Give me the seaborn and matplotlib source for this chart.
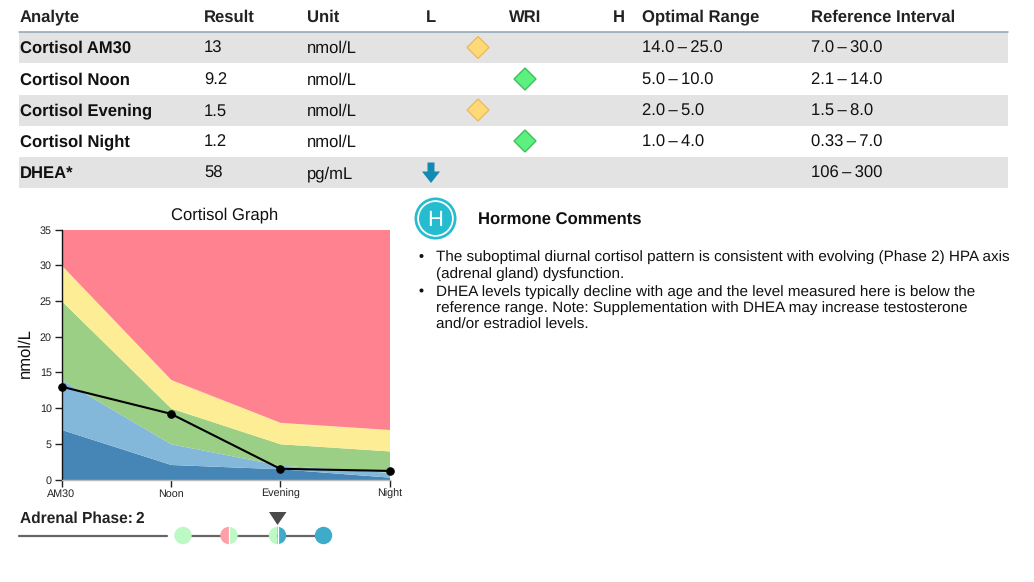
import matplotlib
matplotlib.use("Agg")
import matplotlib.pyplot as plt
from matplotlib.patches import Rectangle, Circle, Wedge, Polygon
import numpy as np
import pandas as pd
import seaborn as sns

sns.set_theme(style="white")
plt.rcParams['font.family'] = ['Liberation Sans', 'DejaVu Sans']
plt.rcParams['text.hinting'] = 'none'

# ---- data ----
headers = ["Analyte", "Result", "Unit", "L", "WRI", "H", "Optimal Range", "Reference Interval"]
analytes = ["Cortisol AM30", "Cortisol Noon", "Cortisol Evening", "Cortisol Night", "DHEA*"]
results = ["13", "9.2", "1.5", "1.2", "58"]
units = ["nmol/L", "nmol/L", "nmol/L", "nmol/L", "pg/mL"]
status = ["mid", "wri", "mid", "wri", "low"]
optimal = ["14.0\u2009–\u200925.0", "5.0\u2009–\u200910.0", "2.0\u2009–\u20095.0", "1.0\u2009–\u20094.0", ""]
reference = ["7.0\u2009–\u200930.0", "2.1\u2009–\u200914.0", "1.5\u2009–\u20098.0", "0.33\u2009–\u20097.0", "106\u2009–\u2009300"]

times = ["AM30", "Noon", "Evening", "Night"]
measured = [13, 9.2, 1.5, 1.2]
ref_low = [7, 2.1, 1.5, 0.33]
opt_low = [14, 5, 2, 1]
opt_high = [25, 10, 5, 4]
ref_high = [30, 14, 8, 7]
y_max = [35, 35, 35, 35]
y_ticks = [0, 5, 10, 15, 20, 25, 30, 35]

comments = [
    ["The suboptimal diurnal cortisol pattern is consistent with evolving (Phase 2) HPA axis",
     "(adrenal gland) dysfunction."],
    ["DHEA levels typically decline with age and the level measured here is below the",
     "reference range. Note: Supplementation with DHEA may increase testosterone",
     "and/or estradiol levels."],
]

W, H = 1034, 582
fig = plt.figure(figsize=(W / 100, H / 100), dpi=100, facecolor="white")
PT = 72 / 100  # points per pixel

# overlay in pixel coordinates
ov = fig.add_axes([0, 0, 1, 1], zorder=0)
ov.set_xlim(0, W)
ov.set_ylim(H, 0)
ov.axis("off")

# ---- table ----
col_x = {"Analyte": 20, "Result": 204, "Unit": 306.5, "L": 431, "WRI": 525, "H": 619,
         "Optimal Range": 642, "Reference Interval": 811}
TXT = "#111111"
fs = 16.6 * PT
for h in headers:
    ha = "center" if h in ("L", "WRI", "H") else "left"
    ov.text(col_x[h], 21.5, h, fontsize=fs, fontweight="bold", ha=ha, va="baseline", color="#222222")
ov.plot([19, 1008], [31.5, 31.5], color="#8fa3b3", lw=1.1)

row_y = [47.5, 79, 110, 141, 172.5]
for i, y in enumerate(row_y):
    if i % 2 == 0:
        ov.add_patch(Rectangle((19, y - 15.5), 989, 31, fc="#e3e3e3", ec="none", zorder=0))
    b = y + 5.5
    ov.text(20, b, analytes[i], fontsize=fs, fontweight="bold", va="baseline", color=TXT)
    ov.text(204, b, results[i], fontsize=fs, va="baseline", color=TXT)
    ov.text(306.5, b, units[i], fontsize=fs, va="baseline", color=TXT)
    ov.text(642, b, optimal[i], fontsize=fs, va="baseline", color=TXT)
    ov.text(811, b, reference[i], fontsize=fs, va="baseline", color=TXT)
    s = status[i]
    if s == "mid":
        ov.add_patch(Polygon([(478, y - 11), (489, y), (478, y + 11), (467, y)],
                             fc="#ffd977", ec="#e8bc62", lw=1))
    elif s == "wri":
        ov.add_patch(Polygon([(525, y - 11), (536, y), (525, y + 11), (514, y)],
                             fc="#5cf07e", ec="#3fbf60", lw=1))
    else:
        ov.add_patch(Polygon([(427.5, y - 10), (434.5, y - 10), (434.5, y - 1), (440, y - 1),
                              (431, y + 10.5), (422, y - 1), (427.5, y - 1)],
                             fc="#1489b3", ec="none"))

# ---- chart ----
ax = fig.add_axes([61.5 / W, 1 - 479.5 / H, (389.5 - 61.5) / W, (479.5 - 229.5) / H], zorder=2)
ax.patch.set_alpha(0)
x = np.arange(len(times))
ax.fill_between(x, 0, ref_low, color="#4686b7", lw=0)
ax.fill_between(x, ref_low, opt_low, color="#84b8da", lw=0)
ax.fill_between(x, opt_low, opt_high, color="#9bcf85", lw=0)
ax.fill_between(x, opt_high, ref_high, color="#fdee95", lw=0)
ax.fill_between(x, ref_high, y_max, color="#ff8291", lw=0)
df = pd.DataFrame({"t": x, "v": measured})
sns.lineplot(data=df, x="t", y="v", ax=ax, color="black", lw=1.5, marker="o",
             markersize=5.4, markeredgecolor="black", clip_on=False, zorder=5)
ax.set_xlim(0, 3)
ax.set_ylim(0, 35)
ax.set_xticks(x, times)
ax.set_yticks(y_ticks)
ax.set_xlabel("")
ax.set_ylabel("")
ax.tick_params(axis="both", length=5, width=1, color="#222222", labelsize=10.7 * PT,
               labelcolor="#222222", pad=2, left=True, bottom=True)
for s in ("top", "right"):
    ax.spines[s].set_visible(False)
ax.spines["left"].set(color="#111111", lw=1)
ax.spines["bottom"].set(color="#bbbbbb", lw=1)
ov.text(25, 353, "nmol/L", fontsize=16.6 * PT, rotation=90, ha="center", va="center", color="#111111")
ov.text(224.5, 219, "Cortisol Graph", fontsize=16.6 * PT, ha="center", va="baseline", color="#111111")

# ---- adrenal phase ----
ov.text(20, 523, "Adrenal Phase:", fontsize=15.5 * PT, fontweight="bold", va="baseline", color="#222222")
ov.text(135, 523, "2", fontsize=15.5 * PT, fontweight="bold", va="baseline", color="#222222")
ov.plot([19, 167], [535.5, 535.5], color="#666666", lw=1.6)
ov.plot([183, 323], [535.5, 535.5], color="#666666", lw=1.6)
GREEN, PINK, BLUE = "#bcf9c4", "#ff9fa8", "#3fabcb"
R = 8.7
ov.add_patch(Circle((183, 535.5), R, fc=GREEN, ec="none", zorder=3))
ov.add_patch(Wedge((229, 535.5), R, 90, 270, fc=PINK, ec="none", zorder=3))
ov.add_patch(Wedge((229, 535.5), R, -90, 90, fc=GREEN, ec="none", zorder=3))
ov.plot([229, 229], [526.5, 544.5], color="white", lw=0.9, zorder=4)
ov.add_patch(Wedge((277.5, 535.5), R, 90, 270, fc=GREEN, ec="none", zorder=3))
ov.add_patch(Wedge((277.5, 535.5), R, -90, 90, fc=BLUE, ec="none", zorder=3))
ov.plot([277.5, 277.5], [526.5, 544.5], color="white", lw=0.9, zorder=4)
ov.add_patch(Circle((323.5, 535.5), R, fc=BLUE, ec="none", zorder=3))
ov.add_patch(Polygon([(269, 512), (286.5, 512), (277.5, 525)], fc="#4a4a4a", ec="none"))

# ---- comments ----
ov.add_patch(Circle((435.5, 218.5), 21, fc="#26bccf", ec="none"))
ov.add_patch(Circle((435.5, 218.5), 18.3, fc="white", ec="none"))
ov.add_patch(Circle((435.5, 218.5), 16.5, fc="#26bccf", ec="none"))
ov.text(435.5, 226, "H", fontsize=22 * PT, color="white", ha="center", va="baseline")
ov.text(477.5, 224.5, "Hormone Comments", fontsize=16.6 * PT, fontweight="bold", va="baseline", color="#111111")

y = 261
cfs = 15.2 * PT
for para in comments:
    ov.add_patch(Circle((421.5, y - 5), 2.0, fc="#111111", ec="none"))
    for line in para:
        ov.text(435.5, y, line, fontsize=cfs, va="baseline", color="#111111")
        y += 16.5
    y += 1.5

fig.savefig("out.png", dpi=100)
